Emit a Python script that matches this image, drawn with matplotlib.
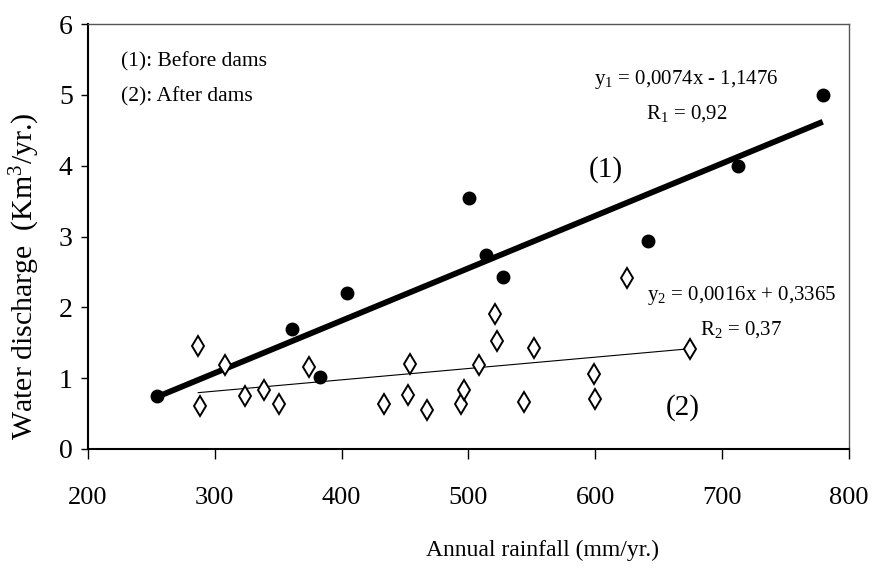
import matplotlib
matplotlib.use("Agg")
import matplotlib.pyplot as plt
import numpy as np

# Data
before_rain = [254.6, 361, 382.6, 404, 500.2, 513.8, 527.4, 641.8, 712.4, 779.3]
before_q = [0.75, 1.69, 1.01, 2.20, 3.55, 2.74, 2.43, 2.93, 4.00, 5.00]

after_rain = [286.9, 288.5, 307.7, 323.6, 338.4, 350.7, 374.6, 433.3, 452.4, 454.0,
              467.1, 493.9, 496.7, 508.6, 521.0, 522.2, 543.7, 552.0, 598.7, 599.9,
              625.0, 674.5]
after_q = [1.45, 0.61, 1.18, 0.75, 0.84, 0.63, 1.16, 0.63, 0.76, 1.20,
           0.55, 0.63, 0.84, 1.18, 1.91, 1.52, 0.67, 1.43, 1.06, 0.70,
           2.42, 1.41]

fit1 = (0.0074, -1.1476)
fit2 = (0.0016, 0.3365)

x_ticks = [200, 300, 400, 500, 600, 700, 800]
y_ticks = [0, 1, 2, 3, 4, 5, 6]

plt.rcParams['font.family'] = ['Liberation Serif', 'DejaVu Serif']
plt.rcParams['mathtext.fontset'] = 'custom'
plt.rcParams['mathtext.rm'] = 'Liberation Serif'
plt.rcParams['mathtext.it'] = 'Liberation Serif:italic'

fig = plt.figure(figsize=(8.73, 5.70), dpi=100)
ax = fig.add_axes([88/873, 1-449/570, (849-88)/873, (449-24)/570])

# regression lines
xb = np.array([min(before_rain), max(before_rain)])
ax.plot(xb, fit1[0]*xb + fit1[1], color='black', lw=4.2, solid_capstyle='butt', zorder=2)
xa = np.array([min(after_rain), max(after_rain)])
ax.plot(xa, fit2[0]*xa + fit2[1], color='black', lw=0.8, zorder=2)

ax.plot(before_rain, before_q, 'o', color='black', markersize=9, zorder=3)
ax.plot(after_rain, after_q, 'd', markerfacecolor='white', markeredgecolor='black',
        markeredgewidth=1.4, markersize=10, zorder=3, linestyle='none')

ax.set_xlim(200, 800)
ax.set_ylim(0, 6)
ax.set_xticks(x_ticks)
ax.set_yticks(y_ticks)
ax.tick_params(axis='x', direction='out', length=7, width=1, labelsize=19, pad=20)
ax.tick_params(axis='y', direction='out', length=5, width=1, labelsize=20, pad=6)

for s in ['left', 'bottom']:
    ax.spines[s].set_linewidth(1.5)
    ax.spines[s].set_color('black')
for s in ['top', 'right']:
    ax.spines[s].set_linewidth(1.0)
    ax.spines[s].set_color('#555555')

# texts
ax.text(226, 5.46, '(1): Before dams', fontsize=15.5, ha='left', va='center')
ax.text(226, 4.97, '(2): After dams', fontsize=15.5, ha='left', va='center')
ax.text(672, 5.21, r'y$\mathregular{_1}$ = 0,0074x - 1,1476', fontsize=15, ha='center', va='center')
ax.text(672, 4.73, r'R$\mathregular{_1}$ = 0,92', fontsize=15, ha='center', va='center')
ax.text(715, 2.17, r'y$\mathregular{_2}$ = 0,0016x + 0,3365', fontsize=15, ha='center', va='center')
ax.text(715, 1.69, r'R$\mathregular{_2}$ = 0,37', fontsize=15, ha='center', va='center')
ax.text(608.5, 3.94, '(1)', fontsize=21, ha='center', va='center')
ax.text(669, 0.58, '(2)', fontsize=21, ha='center', va='center')

fig.text(25/873, 1-276/570, r'Water discharge  (Km$\mathregular{^3}$/yr.)', rotation=90,
         fontsize=21.5, ha='center', va='center')
fig.text(543/873, 1-550/570, 'Annual rainfall (mm/yr.)', fontsize=17, ha='center', va='center')

fig.savefig('out.png', dpi=100)
